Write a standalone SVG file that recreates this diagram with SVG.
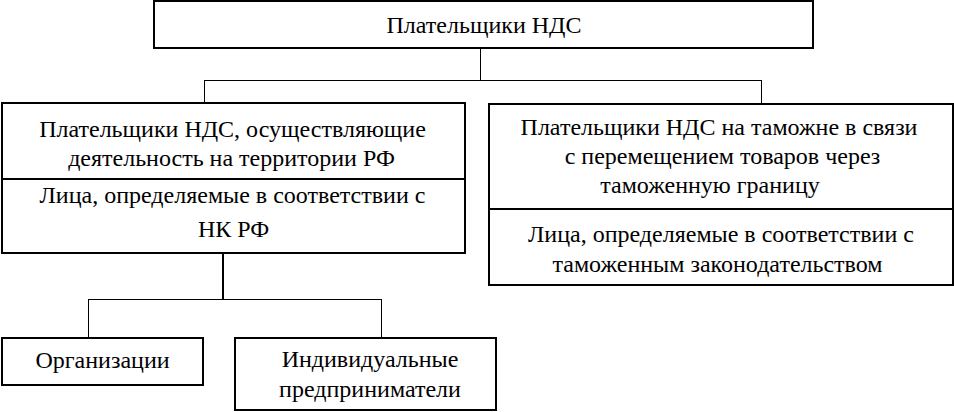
<svg xmlns="http://www.w3.org/2000/svg" width="954" height="412" viewBox="0 0 954 412">
<defs>
<style>
.box{fill:#fff;stroke:#000;stroke-width:2}
.div{stroke:#000;stroke-width:2}
.con{fill:none;stroke:#000;stroke-width:1}
.con2{fill:none;stroke:#000;stroke-width:2}
</style>
</defs>
<rect width="954" height="412" fill="#fff"/>
<g id="connectors">
<path class="con" d="M480.5 48V80.5M204.5 80.5H761.5M204.5 80V103M761.5 80V104"/>
<path class="con2" d="M223 253V299"/>
<path class="con" d="M88.5 299.5H381.5M88.5 299V338M381.5 299V338"/>
</g>
<g font-family="'Liberation Serif', serif" font-size="24" fill="#000" text-anchor="middle">
<g id="root">
<rect class="box" x="154" y="1" width="659" height="47"/>
<text x="484" y="33">Плательщики НДС</text>
</g>
<g id="left">
<rect class="box" x="2" y="103" width="463" height="150"/>
<line class="div" x1="2" y1="179" x2="465" y2="179"/>
<text x="232.5" y="137">Плательщики НДС, осуществляющие</text>
<text x="231.5" y="166">деятельность на территории РФ</text>
<text x="232.5" y="203">Лица, определяемые в соответствии с</text>
<text x="233.5" y="237">НК РФ</text>
</g>
<g id="right">
<rect class="box" x="489" y="104" width="464" height="181"/>
<line class="div" x1="489" y1="209" x2="953" y2="209"/>
<text x="719" y="135">Плательщики НДС на таможне в связи</text>
<text x="722.5" y="164">с перемещением товаров через</text>
<text x="710" y="193">таможенную границу</text>
<text x="721" y="242">Лица, определяемые в соответствии с</text>
<text x="717.5" y="272">таможенным законодательством</text>
</g>
<g id="org">
<rect class="box" x="2" y="338" width="201" height="47"/>
<text x="102.5" y="368">Организации</text>
</g>
<g id="ip">
<rect class="box" x="235" y="338" width="261" height="72"/>
<text x="370" y="367">Индивидуальные</text>
<text x="370" y="397">предприниматели</text>
</g>
</g>
</svg>
